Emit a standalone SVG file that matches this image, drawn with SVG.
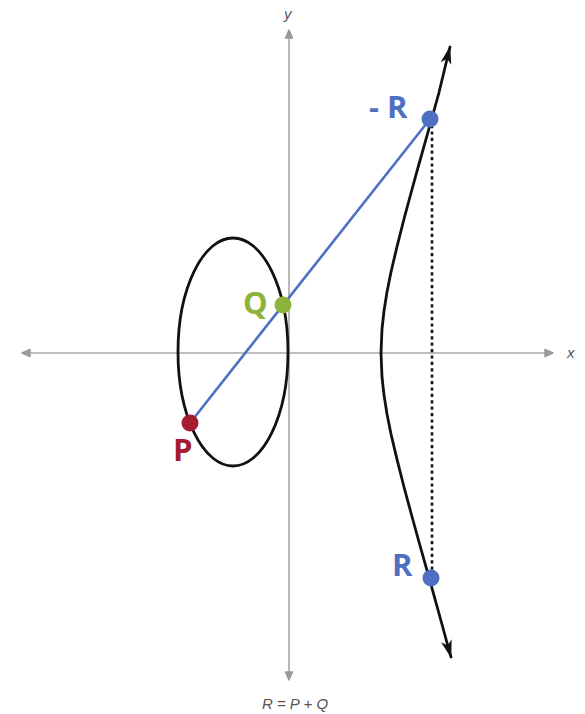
<svg xmlns="http://www.w3.org/2000/svg" width="585" height="714" viewBox="0 0 585 714">
<style>
.axis{stroke:#a8a8a8;stroke-width:1.6;fill:none}
.curve{stroke:#111;stroke-width:2.8;fill:none;stroke-linejoin:round;stroke-linecap:round}
.chord{stroke:#4f6fc2;stroke-width:2.6;fill:none}
.dotted{stroke:#111;stroke-width:2.6;stroke-dasharray:3.2 3.2;fill:none}
.axlabel{font-family:"Liberation Sans",Arial,sans-serif;font-style:italic;font-size:15px;fill:#555}
.pt{font-family:"Open Sans","Liberation Sans",sans-serif;font-weight:bold;font-size:31px}
</style>
<defs>
<marker id="axArrow" viewBox="0 0 10 10" refX="9" refY="5" markerWidth="10" markerHeight="10" markerUnits="userSpaceOnUse" orient="auto-start-reverse">
<path d="M1,1.5 L9,5 L1,8.5 Z" fill="#9a9a9a" stroke="#9a9a9a" stroke-width="1.5" stroke-linejoin="round"/>
</marker>
<marker id="curveArrow" viewBox="0 0 18 12" refX="17" refY="6" markerWidth="18" markerHeight="12" markerUnits="userSpaceOnUse" orient="auto-start-reverse">
<path d="M0,0.5 L18,6 L0,11.5 L5,6 Z" fill="#111"/>
</marker>
</defs>
<g id="axes">
<line class="axis" x1="22" y1="353" x2="553" y2="353" marker-start="url(#axArrow)" marker-end="url(#axArrow)"/>
<line class="axis" x1="289" y1="30" x2="289" y2="680" marker-start="url(#axArrow)" marker-end="url(#axArrow)"/>
<text class="axlabel" x="567" y="358">x</text>
<text class="axlabel" x="284" y="19">y</text>
</g>
<g id="curve">
<ellipse class="curve" cx="233" cy="352" rx="55" ry="114"/>
<polyline class="curve" points="450,47 448,55 439,92.5 430,125 419,164 411,193 404,219 397,246.6 391,272 387,292 384,311 382,329 381,353 382,377 384,395 387,414 391,434 397,459.4 404,487 411,513 419,542 430,581 439,613.5 449,650 451,657" marker-start="url(#curveArrow)" marker-end="url(#curveArrow)"/>
</g>
<g id="connectors">
<line class="chord" x1="190" y1="423" x2="430" y2="119"/>
<line class="dotted" x1="432" y1="125" x2="432" y2="574"/>
</g>
<g id="node-P">
<circle cx="190" cy="423" r="8.5" fill="#a51b30"/>
<text class="pt" x="173" y="461" fill="#a51b30">P</text>
</g>
<g id="node-Q">
<circle cx="283" cy="305" r="8.5" fill="#8db33a"/>
<text class="pt" x="243" y="314" fill="#8db33a">Q</text>
</g>
<g id="node-negR">
<circle cx="430" cy="119" r="8.5" fill="#4f6fc2"/>
<text class="pt" x="369" y="118" fill="#4f6fc2">- R</text>
</g>
<g id="node-R">
<circle cx="431" cy="578" r="8.5" fill="#4f6fc2"/>
<text class="pt" x="392" y="576" fill="#4f6fc2">R</text>
</g>
<text class="axlabel" x="295" y="709" text-anchor="middle" font-size="17">R = P + Q</text>
</svg>
